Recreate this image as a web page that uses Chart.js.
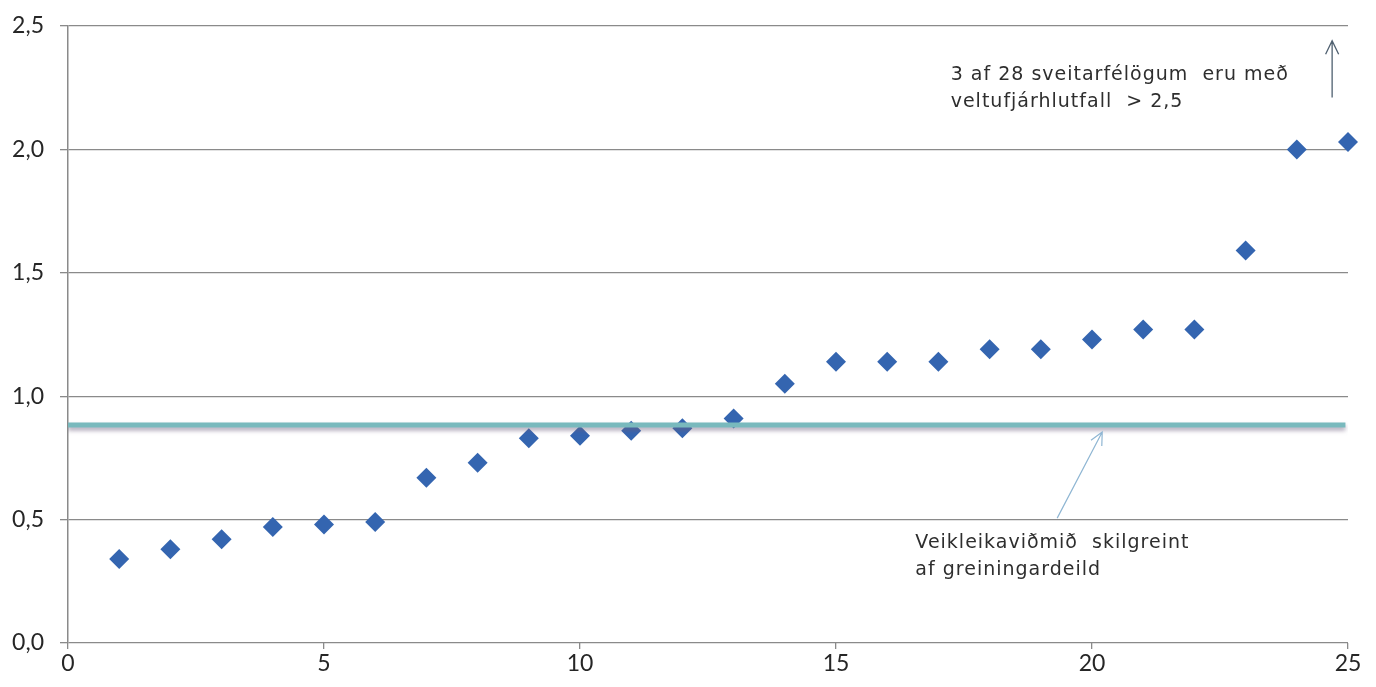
<!DOCTYPE html>
<html lang="is">
<head>
    <meta charset="UTF-8">
    <title>Veltufjárhlutfall sveitarfélaga</title>
    <script src="https://cdn.jsdelivr.net/npm/chart.js"></script>
    <style>
        html, body {
            margin: 0;
            padding: 0;
            background: #ffffff;
        }
        .chart-wrap {
            width: 1376px;
            height: 687px;
        }
    </style>
</head>
<body>
    <div class="chart-wrap">
        <canvas id="ratioChart" width="1376" height="687"></canvas>
    </div>

    <script>
        // rank of municipality (sorted) and its current ratio
        const ranks = [1, 2, 3, 4, 5, 6, 7, 8, 9, 10, 11, 12, 13, 14, 15, 16, 17, 18, 19, 20, 21, 22, 23, 24, 25];
        const ratios = [0.34, 0.38, 0.42, 0.47, 0.48, 0.49, 0.67, 0.73, 0.83, 0.84, 0.86, 0.87, 0.91, 1.05, 1.14, 1.14, 1.14, 1.19, 1.19, 1.23, 1.27, 1.27, 1.59, 2.00, 2.03];
        // weakness threshold line
        const thresholdX = [0, 24.95];
        const thresholdValue = 0.883;
        const yTicks = [0, 0.5, 1.0, 1.5, 2.0, 2.5];
        const xTicks = [0, 5, 10, 15, 20, 25];

        const noteTop = ['3 af 28 sveitarfélögum  eru með', 'veltufjárhlutfall  > 2,5'];
        const noteBottom = ['Veikleikaviðmið  skilgreint', 'af greiningardeild'];

        const pointData = ranks.map((r, i) => ({ x: r, y: ratios[i] }));
        const lineData = thresholdX.map(x => ({ x: x, y: thresholdValue }));

        function drawArrow(ctx, x1, y1, x2, y2, color, width, head) {
            const ang = Math.atan2(y2 - y1, x2 - x1);
            ctx.save();
            ctx.strokeStyle = color;
            ctx.lineWidth = width;
            ctx.beginPath();
            ctx.moveTo(x1, y1);
            ctx.lineTo(x2, y2);
            ctx.moveTo(x2 - head * Math.cos(ang - 0.45), y2 - head * Math.sin(ang - 0.45));
            ctx.lineTo(x2, y2);
            ctx.lineTo(x2 - head * Math.cos(ang + 0.45), y2 - head * Math.sin(ang + 0.45));
            ctx.stroke();
            ctx.restore();
        }

        // soft shadow under the threshold line
        const lineShadow = {
            id: 'lineShadow',
            beforeDatasetDraw(chart, args) {
                if (args.index !== 0) return;
                const ctx = chart.ctx;
                ctx.save();
                ctx.shadowColor = 'rgba(110, 95, 125, 0.55)';
                ctx.shadowBlur = 4;
                ctx.shadowOffsetY = 3;
            },
            afterDatasetDraw(chart, args) {
                if (args.index !== 0) return;
                chart.ctx.restore();
            }
        };

        const notes = {
            id: 'notes',
            afterDatasetsDraw(chart) {
                const ctx = chart.ctx;
                const xs = chart.scales.x;
                const ys = chart.scales.y;
                ctx.save();
                ctx.fillStyle = '#2e2e2e';
                ctx.font = '19px "DejaVu Sans", Verdana, sans-serif';
                ctx.letterSpacing = '1px';
                ctx.textBaseline = 'middle';
                ctx.textAlign = 'left';
                ctx.fillText(noteTop[0], xs.getPixelForValue(17.24), ys.getPixelForValue(2.30));
                ctx.fillText(noteTop[1], xs.getPixelForValue(17.24), ys.getPixelForValue(2.19));
                ctx.fillText(noteBottom[0], xs.getPixelForValue(16.55), ys.getPixelForValue(0.404));
                ctx.fillText(noteBottom[1], xs.getPixelForValue(16.55), ys.getPixelForValue(0.295));
                ctx.restore();

                drawArrow(ctx,
                    xs.getPixelForValue(24.69), ys.getPixelForValue(2.21),
                    xs.getPixelForValue(24.69), ys.getPixelForValue(2.44),
                    '#4f6070', 1.3, 15);
                drawArrow(ctx,
                    xs.getPixelForValue(19.32), ys.getPixelForValue(0.506),
                    xs.getPixelForValue(20.2), ys.getPixelForValue(0.855),
                    '#8fb6d3', 1.2, 14);
            }
        };

        const ctx = document.getElementById('ratioChart').getContext('2d');
        new Chart(ctx, {
            type: 'scatter',
            data: {
                datasets: [
                    {
                        label: 'Veikleikaviðmið',
                        type: 'line',
                        data: lineData,
                        borderColor: '#79b9bd',
                        borderWidth: 5,
                        pointRadius: 0,
                        fill: false
                    },
                    {
                        label: 'Veltufjárhlutfall',
                        data: pointData,
                        pointStyle: 'rectRot',
                        pointRadius: 10,
                        pointHoverRadius: 10,
                        backgroundColor: '#3465b0',
                        borderColor: '#3465b0',
                        borderWidth: 0,
                        clip: false
                    }
                ]
            },
            plugins: [lineShadow, notes],
            options: {
                responsive: false,
                animation: false,
                layout: {
                    padding: { left: 0, right: 28, top: 26, bottom: 0 }
                },
                plugins: {
                    legend: { display: false },
                    tooltip: { enabled: false }
                },
                scales: {
                    x: {
                        type: 'linear',
                        min: 0,
                        max: 25,
                        afterBuildTicks(axis) {
                            axis.ticks = xTicks.map(v => ({ value: v }));
                        },
                        afterFit(axis) { axis.height = 44; },
                        border: { display: false },
                        grid: {
                            drawOnChartArea: false,
                            drawTicks: true,
                            tickLength: 6,
                            color: '#8a8a8a',
                            lineWidth: 1.3
                        },
                        ticks: {
                            color: '#262626',
                            padding: 1,
                            font: { family: 'Lato, "Open Sans", sans-serif', size: 23 },
                            maxRotation: 0
                        }
                    },
                    y: {
                        min: 0,
                        max: 2.5,
                        afterBuildTicks(axis) {
                            axis.ticks = yTicks.map(v => ({ value: v }));
                        },
                        afterFit(axis) {
                            axis.width = 68;
                            axis.paddingTop = 0;
                            axis.paddingBottom = 0;
                        },
                        border: { display: true, color: '#8a8a8a', width: 1.5 },
                        grid: {
                            drawTicks: true,
                            tickLength: 8,
                            color: '#8a8a8a',
                            lineWidth: 1.3
                        },
                        ticks: {
                            color: '#262626',
                            padding: 16,
                            font: { family: 'Lato, "Open Sans", sans-serif', size: 23 },
                            callback: v => v.toFixed(1).replace('.', ',')
                        }
                    }
                }
            }
        });
    </script>
</body>
</html>
